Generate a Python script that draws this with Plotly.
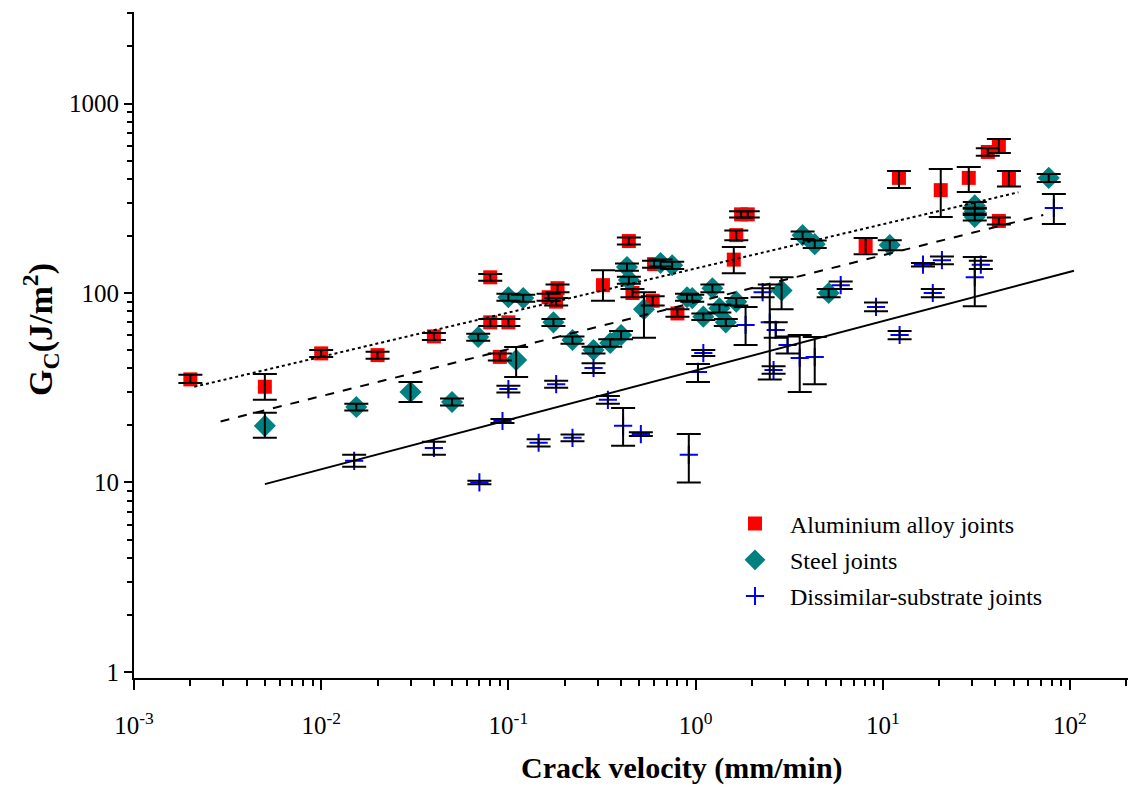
import plotly.graph_objects as go

# Aluminium alloy joints: crack velocity (mm/min), G_C and its error range (J/m^2)
al_v = [0.002, 0.005, 0.01, 0.02, 0.04, 0.08, 0.08, 0.09, 0.1, 0.164, 0.183, 0.18,
        0.32, 0.44, 0.46, 0.59, 0.6, 0.8, 1.6, 1.65, 1.75, 1.9, 8.1, 12.2, 20.4,
        28.8, 36.4, 41.7, 47.2, 41.7]
al_g = [35, 32, 48, 47, 59, 121, 70, 46, 70, 95, 106, 90,
        110, 188, 100, 91, 142, 78, 150, 202, 260, 260, 177, 405, 349,
        405, 555, 604, 400, 240]
al_lo = [33.5, 27.3, 46, 45, 56.5, 116, 67, 44, 67, 91, 101, 86,
         91, 180, 95, 86, 136, 75, 127, 190, 250, 250, 160, 358, 252,
         341, 530, 548, 365, 230]
al_hi = [37, 37.4, 50, 49, 61.5, 126, 73, 48, 73, 99, 111, 94,
         132, 196, 105, 96, 148, 82, 175, 214, 270, 270, 195, 440, 451,
         462, 580, 650, 440, 250]

# Steel joints
st_v = [0.005, 0.0154, 0.03, 0.05, 0.069, 0.1, 0.12, 0.174, 0.11, 0.22, 0.285, 0.35,
        0.4, 0.43, 0.44, 0.53, 0.65, 0.75, 0.9, 0.96, 1.1, 1.23, 1.34, 1.45, 1.65,
        3.73, 4.33, 10.9, 2.88, 5.14, 31, 31, 31, 77]
st_g = [19.9, 25, 30, 26.6, 58.6, 95, 94, 70, 44.3, 56.5, 50, 54.5,
        60, 137, 117, 82, 144, 140, 95, 94, 75, 106, 83, 70, 90,
        202, 181, 179, 103, 100, 290, 270, 252, 405]
st_lo = [17.2, 24, 26.6, 25.5, 56, 91, 90, 67, 36, 54, 48, 52,
         57, 131, 112, 58, 138, 134, 91, 90, 72, 101, 79, 67, 86,
         193, 173, 168, 82, 95, 278, 258, 241, 385]
st_hi = [23.3, 26, 33.9, 27.7, 61, 99, 98, 73, 51.9, 59, 52, 57,
         63, 143, 122, 101, 150, 146, 99, 98, 78, 111, 87, 73, 94,
         211, 189, 190, 121, 105, 302, 282, 263, 425]

# Dissimilar-substrate joints
ds_v = [0.015, 0.04, 0.07, 0.093, 0.1, 0.145, 0.18, 0.22, 0.285, 0.34, 0.41, 0.51,
        0.92, 1.03, 1.1, 1.85, 2.28, 2.49, 2.68, 2.61, 3.1, 3.6, 4.33, 5.96, 9.2,
        12.3, 16.4, 20.7, 18.5, 33.4, 31, 82]
ds_g = [13, 15.2, 10, 21.1, 31.1, 16.2, 33, 17.2, 40.2, 27.3, 19.9, 18,
        14, 38.3, 48.2, 67.8, 101, 70, 63.8, 39.2, 53.2, 45.4, 45.9, 110, 84.4,
        60, 141, 149, 100, 141, 121, 281]
ds_lo = [12.1, 14, 9.8, 20.6, 29.8, 15.5, 31.6, 16.5, 37.8, 26, 15.6, 17.6,
         10, 33.9, 46.5, 53.2, 95, 35, 58, 37.5, 48, 30, 33, 105, 80,
         57, 138, 142, 95, 134, 85, 231]
ds_hi = [14, 16.4, 10.2, 21.6, 32.4, 16.9, 34.4, 17.9, 42.6, 28.6, 24.7, 18.4,
         18, 42.2, 50, 84.4, 106, 111, 70, 41, 59, 60, 58.6, 115, 89,
         63, 144, 156, 105, 148, 155, 333]

# Power-law trend lines (end points)
fit_al_v, fit_al_g = [0.0021, 53], [32, 340]
fit_st_v, fit_st_g = [0.0029, 72], [21, 258]
fit_ds_v, fit_ds_g = [0.005, 105], [9.8, 131]

SERIF = "Liberation Serif"

fig = go.Figure()

series = [
    ("Aluminium alloy joints", al_v, al_g, al_lo, al_hi,
     dict(symbol="square", size=14, color="#ff0000")),
    ("Steel joints", st_v, st_g, st_lo, st_hi,
     dict(symbol="diamond", size=17, color="#008080")),
    ("Dissimilar-substrate joints", ds_v, ds_g, ds_lo, ds_hi,
     dict(symbol="cross-thin-open", size=13, color="#0000ff",
          line=dict(color="#0000ff", width=2))),
]

# markers
for i, (name, v, g, lo, hi, mk) in enumerate(series):
    fig.add_trace(go.Scatter(
        x=v, y=g, mode="markers", name=name, marker=mk,
        legendgroup=f"g{i}", showlegend=True,
    ))

# error bars drawn over the markers
for name, v, g, lo, hi, mk in series:
    fig.add_trace(go.Scatter(
        x=v, y=g, mode="markers", marker=dict(size=1, opacity=0),
        showlegend=False, hoverinfo="skip",
        error_y=dict(type="data", symmetric=False,
                     array=[h - y for h, y in zip(hi, g)],
                     arrayminus=[y - l for l, y in zip(lo, g)],
                     color="black", thickness=2, width=12),
    ))

# trend lines
fig.add_trace(go.Scatter(x=fit_al_v, y=fit_al_g, mode="lines", showlegend=False,
                         line=dict(color="black", width=2, dash="dot")))
fig.add_trace(go.Scatter(x=fit_st_v, y=fit_st_g, mode="lines", showlegend=False,
                         line=dict(color="black", width=2, dash="dash")))
fig.add_trace(go.Scatter(x=fit_ds_v, y=fit_ds_g, mode="lines", showlegend=False,
                         line=dict(color="black", width=2)))

x_major = [1e-3, 1e-2, 1e-1, 1, 10, 100]
x_labels = ["10<sup>-3</sup>", "10<sup>-2</sup>", "10<sup>-1</sup>",
            "10<sup>0</sup>", "10<sup>1</sup>", "10<sup>2</sup>"]
y_major = [1, 10, 100, 1000]
y_labels = ["1", "10", "100", "1000"]

x_minor = [m * 10.0 ** e for e in range(-3, 3) for m in range(2, 10)]
y_minor = [m * 10.0 ** e for e in range(0, 4) for m in range(2, 10)]

fig.update_xaxes(
    type="log", range=[-3, 2.31],
    tickmode="array", tickvals=x_major, ticktext=x_labels,
    ticks="outside", ticklen=10, tickwidth=2, tickcolor="black",
    showline=True, linecolor="black", linewidth=2, showgrid=False, zeroline=False,
    minor=dict(tickmode="array", tickvals=x_minor, ticks="outside",
               ticklen=6, tickwidth=1.5, tickcolor="black", showgrid=False),
    tickfont=dict(family=SERIF, size=25, color="black"),
    ticklabelstandoff=14,
)
fig.update_yaxes(
    type="log", range=[-0.032, 3.483],
    tickmode="array", tickvals=y_major, ticktext=y_labels,
    ticks="outside", ticklen=8, tickwidth=2, tickcolor="black",
    showline=True, linecolor="black", linewidth=2, showgrid=False, zeroline=False,
    minor=dict(tickmode="array", tickvals=y_minor, ticks="outside",
               ticklen=5, tickwidth=1.5, tickcolor="black", showgrid=False),
    tickfont=dict(family=SERIF, size=25, color="black"),
)

# axis titles
fig.add_annotation(
    text="<b>Crack velocity (mm/min)</b>", xref="paper", yref="paper",
    x=(682 - 134) / 994, y=-(768 - 678) / 666, showarrow=False,
    xanchor="center", yanchor="middle",
    font=dict(family=SERIF, size=30, color="black"),
)
fig.add_annotation(
    text="<b>G<sub>C</sub>(J/m<sup>2</sup>)</b>", xref="paper", yref="paper",
    x=-(134 - 40) / 994, y=(678 - 330) / 666, showarrow=False, textangle=-90,
    xanchor="center", yanchor="middle",
    font=dict(family=SERIF, size=34, color="black"),
)

fig.update_layout(
    width=1131, height=792,
    margin=dict(l=134, r=3, t=12, b=114),
    paper_bgcolor="white", plot_bgcolor="white",
    legend=dict(x=(720 - 134) / 994, y=0.265, xanchor="left", yanchor="top",
                font=dict(family=SERIF, size=24, color="black"),
                bgcolor="rgba(0,0,0,0)", tracegroupgap=2, itemwidth=60),
)

fig.write_html("out.html")
